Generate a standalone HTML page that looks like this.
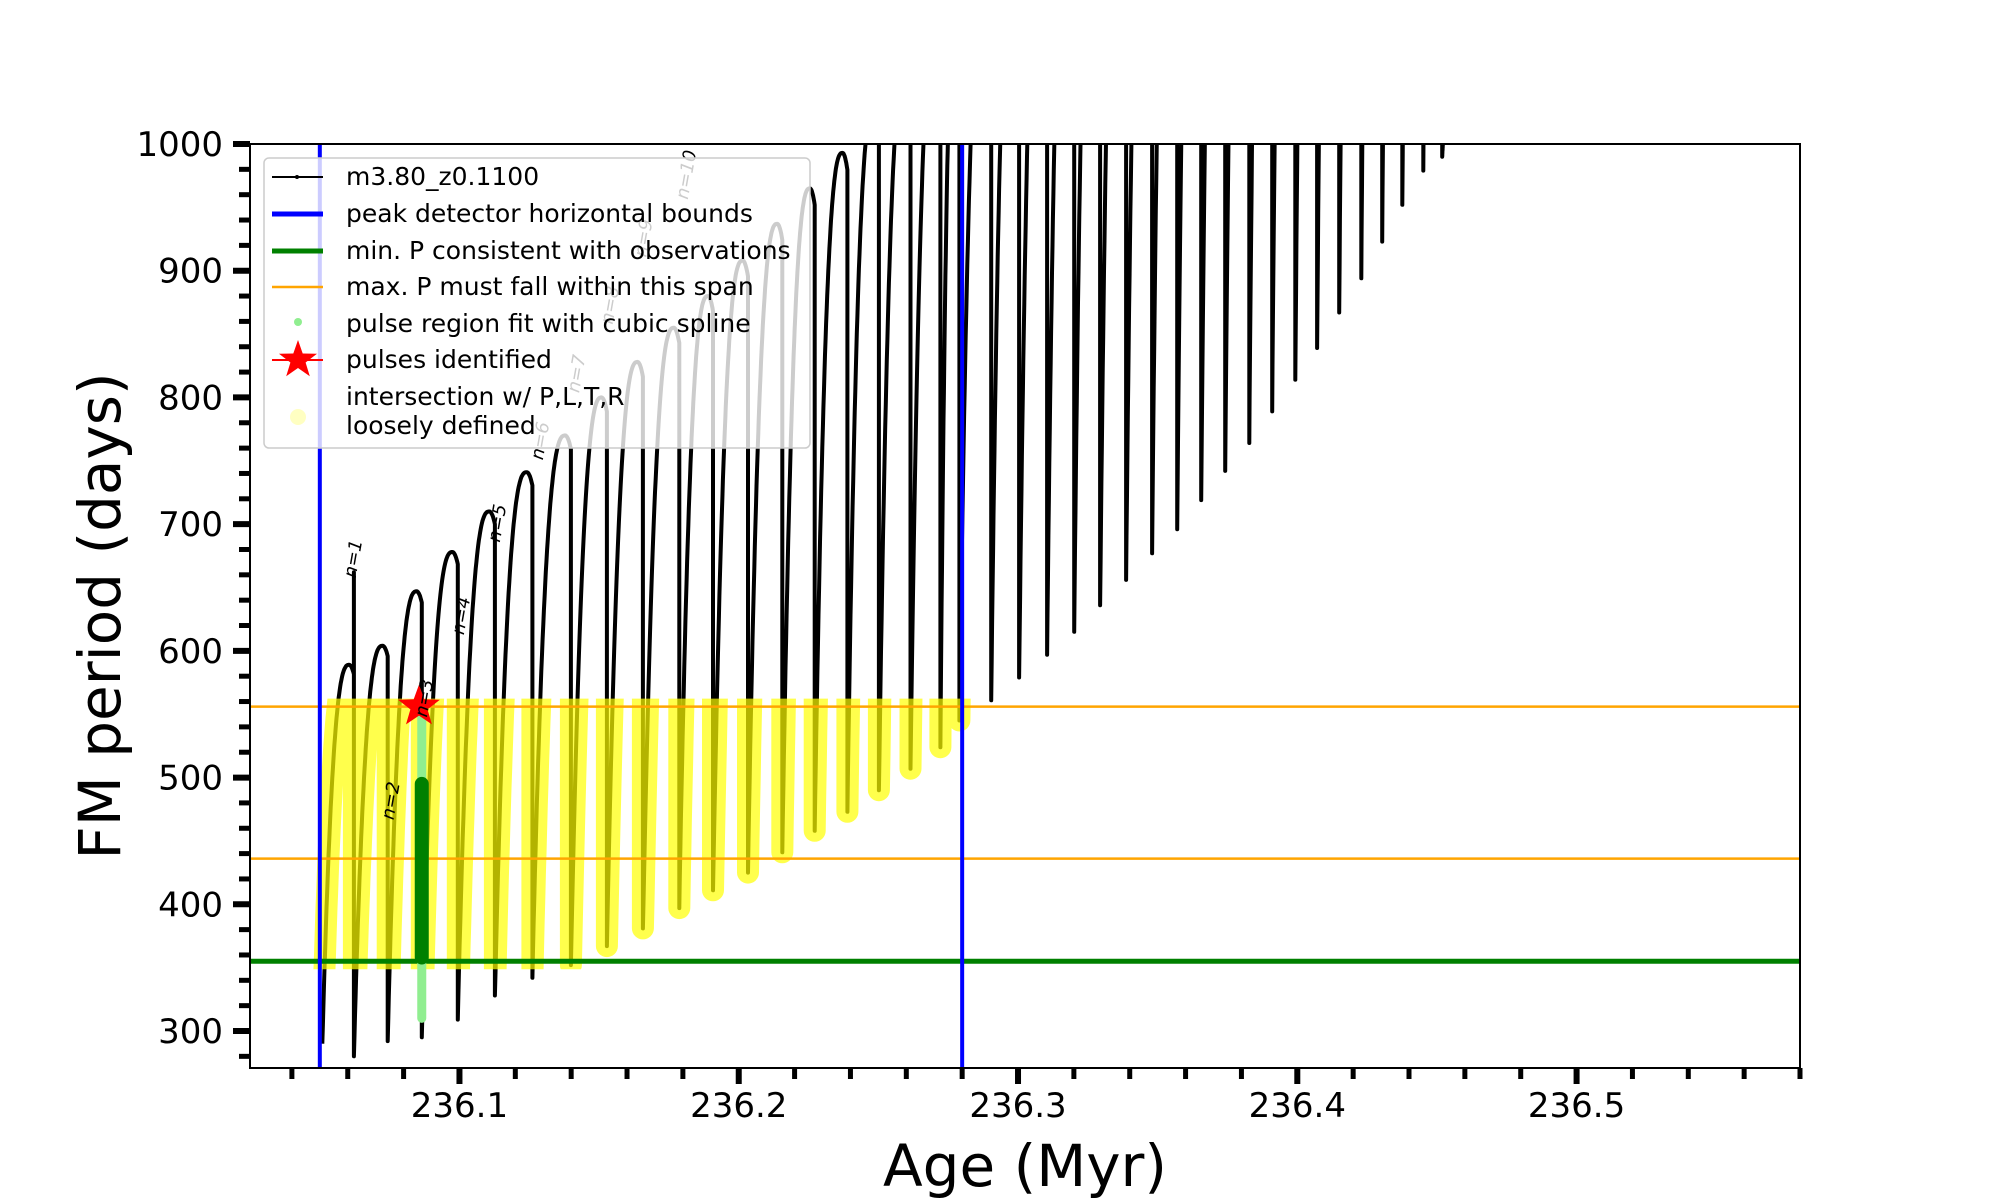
<!DOCTYPE html>
<html><head><meta charset="utf-8"><style>
html,body{margin:0;padding:0;background:#fff;}
svg{display:block;font-family:"DejaVu Sans","Liberation Sans",sans-serif;}
</style></head><body>
<svg id="chart" width="2000" height="1200" viewBox="0 0 2000 1200">
<defs><clipPath id="plotclip"><rect x="250" y="144" width="1550" height="924"/></clipPath>
<clipPath id="yelclip"><rect id="yelrect" x="0" y="0" width="0" height="0"/></clipPath></defs>
<g id="plot" clip-path="url(#plotclip)"></g>
<g id="axes"></g>
<g id="legend"></g>
</svg>
<script>
// ---- data ----
const startAges = [236.0509,236.0622,236.0743,236.0865,236.0994,236.1127,236.1261,236.1399,236.1528,236.1657,236.1787,236.1908,236.2033,236.2156,236.2272,236.2389,236.2502,236.2615,236.2722,236.2790,236.2904,236.3004,236.3104,236.3201,236.3294,236.3387,236.3480,236.3570,236.3656,236.3742,236.3828,236.3910,236.3993,236.4071,236.4150,236.4229,236.4304,236.4376,236.4451,236.4519];
const troughs = [290,280,292,295,309,328,342,352,367,381,397,411,425,441,458,473,490,507,524,545,561,579,597,615,636,656,677,696,719,742,764,789,814,839,867,894,923,952,979,990];
const peaks = [589,604,647,678,710,741,770,800,828,855,880,908,937,965,993,1030,1060,1090,1120,1150,1180,1210,1240,1270,1300,1330,1360,1390,1420,1450,1480,1510,1540,1570,1600,1630,1660,1690,1720,1010];
const lastEndAge = 236.4530;
const spikePulse = [0];
const spikeValue = [662];
const boundAges = [236.050, 236.280];
const minP = [355];
const maxPSpan = [436, 556];
const splineAge = [236.0865];
const splineRange = [310, 556];
const fitRange = [358, 495];
const starAge = [236.0855];
const starP = [556];
const nLabels = ["n=1","n=2","n=3","n=4","n=5","n=6","n=7","n=8","n=9","n=10"];
const nAges = [236.0640,236.0775,236.0895,236.1027,236.1156,236.1310,236.1440,236.1560,236.1680,236.1833];
const nP = [672,481,562,627,700,765,818,872,925,975];
const xTicks = [236.1,236.2,236.3,236.4,236.5];
const yTicks = [300,400,500,600,700,800,900,1000];

// ---- scales ----
const X0=250,X1=1800,Y0=144,Y1=1068;
const AMIN=236.025,AMAX=236.580,PMIN=270.8,PMAX=1000;
function sx(a){return X0+(a-AMIN)/(AMAX-AMIN)*(X1-X0);}
function sy(p){return Y1-(p-PMIN)/(PMAX-PMIN)*(Y1-Y0);}
const NS="http://www.w3.org/2000/svg";
function mk(tag,attrs,parent){const e=document.createElementNS(NS,tag);for(const k in attrs)e.setAttribute(k,attrs[k]);parent.appendChild(e);return e;}
const plot=document.getElementById('plot'),axes=document.getElementById('axes'),leg=document.getElementById('legend');

// build black series path
let pts=[];
for(let i=0;i<startAges.length;i++){
  const t0=startAges[i], t1=(i+1<startAges.length)?startAges[i+1]:lastEndAge;
  const tr=troughs[i], pk=peaks[i];
  for(let k=0;k<=60;k++){
    const u=k/60;let f;
    if(u<0.85){f=1-Math.pow(1-u/0.85,2.6);}else{f=1-Math.pow((u-0.85)/0.15,2)*0.025;}
    pts.push([sx(t0+u*(t1-t0)),sy(tr+(pk-tr)*f)]);
  }
  const si=spikePulse.indexOf(i);
  if(si>=0){pts.push([sx(t1),sy(spikeValue[si])]);}
}
const d='M'+pts.map(p=>p[0].toFixed(1)+','+p[1].toFixed(1)).join('L');
const blk=mk('path',{d:d,fill:'none',stroke:'#000','stroke-width':4,'stroke-linejoin':'round'},plot);



// yellow intersection highlight
const yr=document.getElementById('yelrect');
yr.setAttribute('x',sx(boundAges[0])-12);yr.setAttribute('width',sx(boundAges[1])-sx(boundAges[0])+24);
yr.setAttribute('y',sy(maxPSpan[1])-8);yr.setAttribute('height',sy(minP[0])-sy(maxPSpan[1])+16);
const yel=mk('path',{d:d,fill:'none',stroke:'#ffff00','stroke-width':22,'stroke-opacity':0.7,'stroke-linejoin':'round','stroke-linecap':'round','clip-path':'url(#yelclip)'},plot);



// horizontal lines
const o1=mk('line',{x1:X0,x2:X1,y1:sy(maxPSpan[0]),y2:sy(maxPSpan[0]),stroke:'#ffa500','stroke-width':2.5},plot);


const o2=mk('line',{x1:X0,x2:X1,y1:sy(maxPSpan[1]),y2:sy(maxPSpan[1]),stroke:'#ffa500','stroke-width':2.5},plot);


const g1=mk('line',{x1:X0,x2:X1,y1:sy(minP[0]),y2:sy(minP[0]),stroke:'#008000','stroke-width':5},plot);



// spline points
const sp=mk('line',{x1:sx(splineAge[0]),x2:sx(splineAge[0]),y1:sy(splineRange[0]),y2:sy(splineRange[1]),stroke:'#90ee90','stroke-width':9,'stroke-linecap':'round'},plot);


const fit=mk('line',{x1:sx(splineAge[0]),x2:sx(splineAge[0]),y1:sy(fitRange[0]),y2:sy(fitRange[1]),stroke:'#008000','stroke-width':14,'stroke-linecap':'round'},plot);



// vertical blue bounds
boundAges.forEach((a,i)=>{
  const b=mk('line',{x1:sx(a),x2:sx(a),y1:Y0,y2:Y1,stroke:'#0000ff','stroke-width':4},plot);
  
  
});

// star
function starPts(cx,cy,R,r){let s=[];for(let k=0;k<10;k++){const ang=-Math.PI/2+k*Math.PI/5;const rr=k%2?r:R;s.push((cx+rr*Math.cos(ang)).toFixed(1)+','+(cy+rr*Math.sin(ang)).toFixed(1));}return s.join(' ');}
const st=mk('polygon',{points:starPts(sx(starAge[0]),sy(starP[0]),22,9),fill:'#ff0000'},plot);



// n labels
nLabels.forEach((t,i)=>{
  const x=sx(nAges[i]),y=sy(nP[i]);
  const tx=mk('text',{x:x,y:y,'font-size':18,'font-style':'italic',fill:'#000','text-anchor':'middle',transform:'rotate(-80 '+x+' '+y+')'},plot);
  tx.textContent=t;
  
  
});

// frame
const fr=mk('rect',{x:X0,y:Y0,width:X1-X0,height:Y1-Y0,fill:'none',stroke:'#000','stroke-width':2},axes);



// y ticks
for(let v=280;v<=1000;v+=20){
  const major=(v%100===0);const y=sy(v);
  mk('line',{x1:X0-(major?17:11),x2:X0,y1:y,y2:y,stroke:'#000','stroke-width':major?6:5},axes);
}
yTicks.forEach(v=>{
  const t=mk('text',{x:223,y:sy(v)+12,'font-size':34,'text-anchor':'end',fill:'#000'},axes);
  t.textContent=String(v);
  
  
});
// x ticks
for(let k=0;k<=27;k++){
  const a=236.04+k*0.02;const x=sx(a);const major=(Math.abs((a*10)-Math.round(a*10))<1e-6);
  mk('line',{x1:x,x2:x,y1:Y1,y2:Y1+(major?16:11),stroke:'#000','stroke-width':major?6:5},axes);
}
xTicks.forEach(v=>{
  const t=mk('text',{x:sx(v),y:1117,'font-size':34,'text-anchor':'middle',fill:'#000'},axes);
  t.textContent=v.toFixed(1);
  
  
});
const xl=mk('text',{x:1025,y:1186,'font-size':58,'text-anchor':'middle',fill:'#000'},axes);
xl.textContent='Age (Myr)';


const yl=mk('text',{x:120,y:616,'font-size':58,'text-anchor':'middle',fill:'#000',transform:'rotate(-90 120 616)'},axes);
yl.textContent='FM period (days)';



// legend
const lb=mk('rect',{x:264,y:158,width:546,height:290,rx:5,fill:'#fff','fill-opacity':0.8,stroke:'#ccc','stroke-width':1.5},leg);


const items=[
 ['m3.80_z0.1100',177,'line','#000',2],
 ['peak detector horizontal bounds',214,'line','#0000ff',5],
 ['min. P consistent with observations',251,'line','#008000',5],
 ['max. P must fall within this span',287,'line','#ffa500',2.5],
 ['pulse region fit with cubic spline',324,'dot','#90ee90',0],
 ['pulses identified',360,'star','#ff0000',0],
];
items.forEach((it,i)=>{
  const g=mk('g',{},leg);
  
  
  if(it[2]==='line'){mk('line',{x1:272,x2:323,y1:it[1],y2:it[1],stroke:it[3],'stroke-width':it[4]},g);if(i===0)mk('circle',{cx:297,cy:it[1],r:2,fill:'#000'},g);}
  else if(it[2]==='dot'){mk('circle',{cx:298,cy:it[1]-2,r:4,fill:it[3]},g);}
  else {mk('line',{x1:272,x2:323,y1:it[1],y2:it[1],stroke:'#ff0000','stroke-width':2},g);mk('polygon',{points:starPts(298,it[1],20,8),fill:'#ff0000'},g);}
  const t=mk('text',{x:346,y:it[1]+8,'font-size':25,fill:'#000'},g);t.textContent=it[0];
});
const g7=mk('g',{},leg);


mk('circle',{cx:298,cy:417,r:8,fill:'#ffff99','fill-opacity':0.6},g7);
const t7a=mk('text',{x:346,y:405,'font-size':25,fill:'#000'},g7);t7a.textContent='intersection w/ P,L,T,R';
const t7b=mk('text',{x:346,y:434,'font-size':25,fill:'#000'},g7);t7b.textContent='loosely defined';
</script>
</body></html>
